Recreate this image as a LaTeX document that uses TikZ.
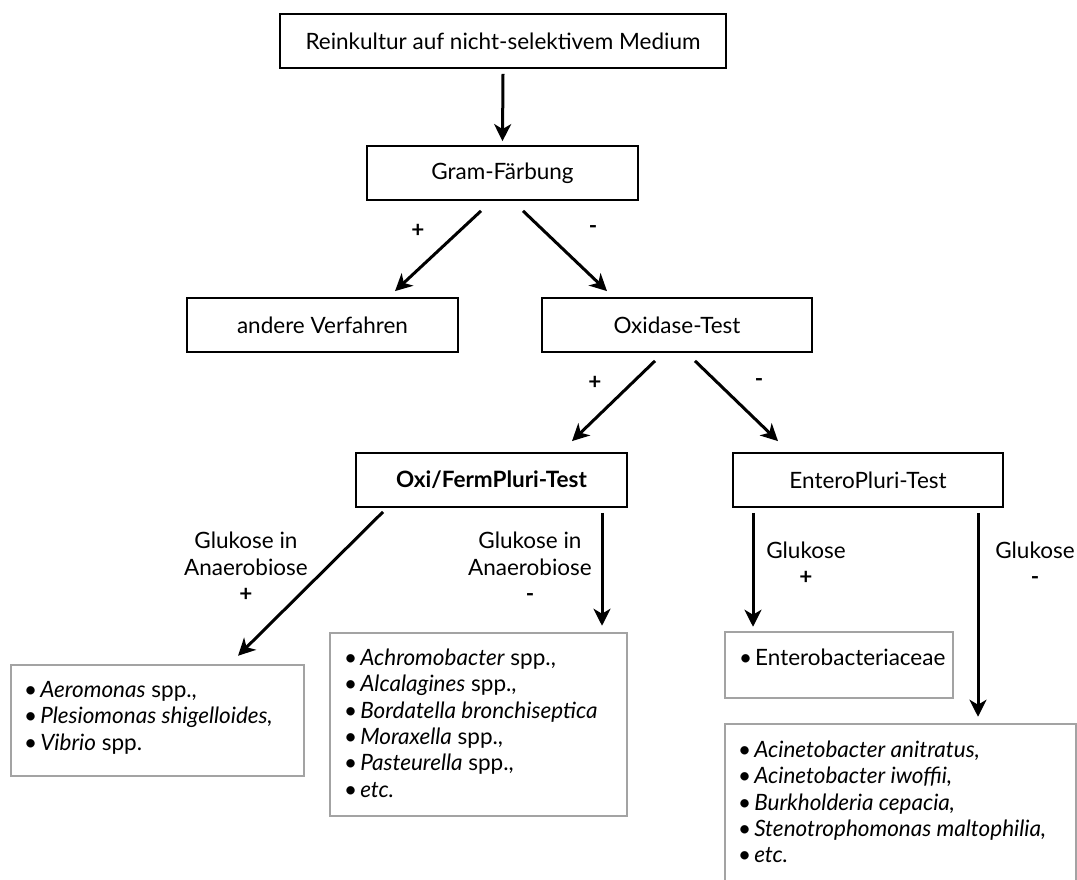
\documentclass[tikz,border=0pt]{standalone}
\usepackage{fontspec}
\setmainfont{Lato}
\usetikzlibrary{arrows.meta,calc}
\begin{document}
\begin{tikzpicture}[x=1pt,y=-1pt,
  font=\fontsize{22.5}{26.3}\selectfont,
  box/.style={draw=black, line width=1.8pt, minimum width=271pt, minimum height=54pt, inner sep=0pt},
  res/.style={draw=black!36, line width=2.5pt, inner sep=0pt},
  arr/.style={line width=3pt, -{Stealth[length=17pt,width=17pt,inset=5pt]}},
  lbl/.style={inner sep=0pt, align=center},
  pm/.style={inner sep=0pt, font=\fontsize{22.5}{26.3}\selectfont\bfseries},
  reslist/.style={anchor=north west, align=left, inner sep=0pt}
]
\clip (0,0) rectangle (1077,879);
\fill[white] (0,0) rectangle (1077,879);

% main boxes
\node[box, minimum width=446pt] (top) at (503,41) {Reinkultur auf nicht-selektivem Medium};
\node[box] (gram) at (502.5,173) {Gram-Färbung};
\node[box] (andere) at (322.5,325) {andere Verfahren};
\node[box, minimum width=270pt] (oxid) at (677,325) {Oxidase-Test};
\node[box] (oxi) at (491.5,480) {\bfseries Oxi/FermPluri-Test};
\node[box, minimum width=270pt] (entero) at (868,480) {EnteroPluri-Test};

% result boxes
\node[res, minimum width=293pt, minimum height=111pt] (res1) at (157.5,720.5) {};
\node[res, minimum width=297pt, minimum height=183pt] (res2) at (478.5,724.5) {};
\node[res, minimum width=228pt, minimum height=66pt] (res3) at (839,665) {};
\node[res, minimum width=351pt, minimum height=190pt] (res4) at (900.5,819) {};

\node[reslist] (res1t) at (24,679) {\strut\textbullet\hspace{3pt}\textit{Aeromonas} spp.,\\
\strut\textbullet\hspace{3pt}\textit{Plesiomonas shigelloides,}\\
\strut\textbullet\hspace{3pt}\textit{Vibrio} spp.};
\node[reslist] (res2t) at (344,647) {\strut\textbullet\hspace{3pt}\textit{Achromobacter} spp.,\\
\strut\textbullet\hspace{3pt}\textit{Alcalagines} spp.,\\
\strut\textbullet\hspace{3pt}\textit{Bordatella bronchiseptica}\\
\strut\textbullet\hspace{3pt}\textit{Moraxella} spp.,\\
\strut\textbullet\hspace{3pt}\textit{Pasteurella} spp.,\\
\strut\textbullet\hspace{3pt}\textit{etc.}};
\node[reslist] (res3t) at (739,647) {\strut\textbullet\hspace{3pt}Enterobacteriaceae};
\node[reslist] (res4t) at (738,739) {\strut\textbullet\hspace{3pt}\textit{Acinetobacter anitratus,}\\
\strut\textbullet\hspace{3pt}\textit{Acinetobacter iwoffii,}\\
\strut\textbullet\hspace{3pt}\textit{Burkholderia cepacia,}\\
\strut\textbullet\hspace{3pt}\textit{Stenotrophomonas maltophilia,}\\
\strut\textbullet\hspace{3pt}\textit{etc.}};

% labels
\node[pm] (l1) at (418,231) {+};
\node[pm] (l2) at (593,230) {-};
\node[pm] (l3) at (595,383) {+};
\node[pm] (l4) at (759,383) {-};
\node[lbl] (l5) at (246,570) {\strut Glukose in\\\strut Anaerobiose\\\strut\textbf{+}};
\node[lbl] (l6) at (530,570) {\strut Glukose in\\\strut Anaerobiose\\\strut\textbf{-}};
\node[lbl] (l7) at (806,566.5) {\strut Glukose\\\strut\textbf{+}};
\node[lbl] (l8) at (1035,566.5) {\strut Glukose\\\strut\textbf{-}};

% arrows
\draw[arr] ($(top.south)+(0,5)$) -- ($(gram.north)+(0,-4)$);
\draw[arr] ($(gram.south)+(-21.5,10)$) -- ($(andere.north)+(72.5,-6)$);
\draw[arr] ($(gram.south)+(20.5,10)$) -- ($(oxid.north)+(-70,-6)$);
\draw[arr] ($(oxid.south)+(-22,8)$) -- ($(oxi.north)+(80.5,-11)$);
\draw[arr] ($(oxid.south)+(18,8)$) -- ($(entero.north)+(-90,-11)$);
\draw[arr] ($(oxi.south)+(-108.5,4)$) -- ($(res1.north)+(80.5,-8)$);
\draw[arr] ($(oxi.south)+(110.5,5)$) -- ($(res2.north)+(123.5,-6)$);
\draw[arr] ($(entero.south)+(-115,5)$) -- ($(res3.north)+(-86,-4)$);
\draw[arr] ($(entero.south)+(110,5)$) -- ($(res4.north)+(77.5,-6)$);
\end{tikzpicture}
\end{document}
